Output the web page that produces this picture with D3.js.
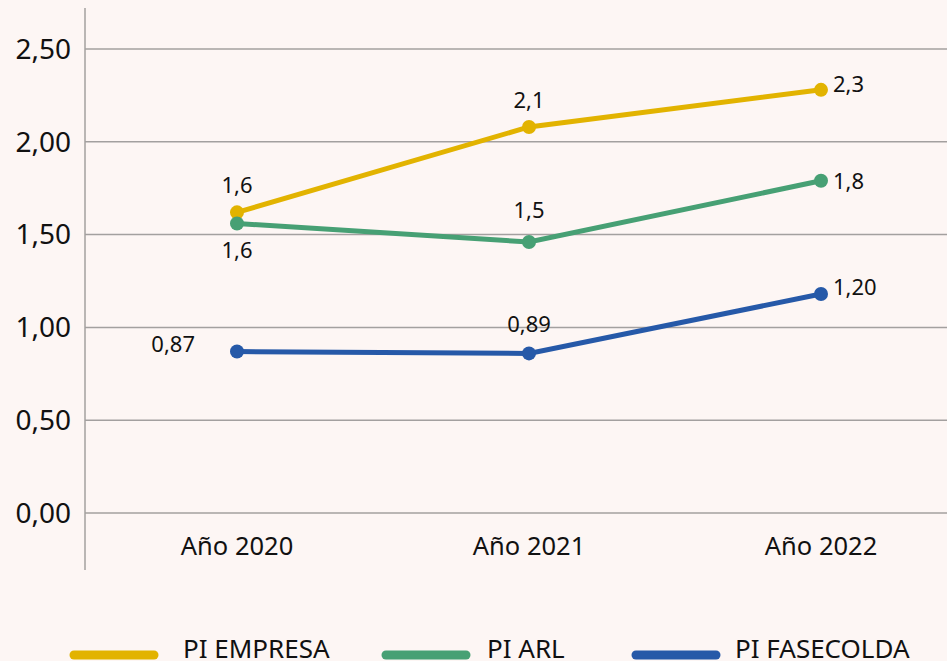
<!DOCTYPE html>
<html>
<head>
<meta charset="utf-8">
<script src="https://cdn.jsdelivr.net/npm/d3@7"></script>
<style>
  html, body { margin: 0; padding: 0; background: #fdf6f4; }
  svg text { font-family: "Noto Sans", "Open Sans", sans-serif; fill: #111; }
</style>
</head>
<body>
<script>
// chart data
const years = ["Año 2020", "Año 2021", "Año 2022"];
const seriesNames = ["PI EMPRESA", "PI ARL", "PI FASECOLDA"];
const empresa = [1.62, 2.08, 2.28];
const arl = [1.56, 1.46, 1.79];
const fasecolda = [0.87, 0.86, 1.18];
const empresaLabels = ["1,6", "2,1", "2,3"];
const arlLabels = ["1,6", "1,5", "1,8"];
const fasecoldaLabels = ["0,87", "0,89", "1,20"];
const yTicks = [0, 0.5, 1, 1.5, 2, 2.5];

const W = 947, H = 661;
const colors = ["#e2b300", "#47a074", "#2659a8"];
// where each value label sits relative to its point, plus a small vertical nudge
const labelPos = [
  [["above", 0], ["above", 0], ["right", -6]],
  [["below", 0], ["above", -5], ["right", 0]],
  [["left", -8], ["above", -2], ["right", -7]]
];

const series = [
  {name: seriesNames[0], values: empresa, labels: empresaLabels},
  {name: seriesNames[1], values: arl, labels: arlLabels},
  {name: seriesNames[2], values: fasecolda, labels: fasecoldaLabels}
];

const svg = d3.select("body").append("svg")
  .attr("width", W)
  .attr("height", H);

svg.append("rect").attr("width", W).attr("height", H).attr("fill", "#fdf6f4");

const left = 85;
const x = d3.scalePoint().domain(years).range([237, 821]);
const y = d3.scaleLinear().domain([0, 2.5]).range([513, 49]);

// grid
svg.append("g").selectAll("line")
  .data(yTicks).join("line")
  .attr("x1", left).attr("x2", W)
  .attr("y1", d => y(d)).attr("y2", d => y(d))
  .attr("stroke", "#a3a09f").attr("stroke-width", 1.5);

// y axis line
svg.append("line")
  .attr("x1", left).attr("x2", left)
  .attr("y1", 8).attr("y2", 570)
  .attr("stroke", "#a3a09f").attr("stroke-width", 1.5);

const fmt = d => d3.format(".2f")(d).replace(".", ",");

svg.append("g").selectAll("text")
  .data(yTicks).join("text")
  .attr("x", 71)
  .attr("y", d => y(d))
  .attr("dy", "0.35em")
  .attr("text-anchor", "end")
  .attr("font-size", 28)
  .text(fmt);

svg.append("g").selectAll("text")
  .data(years).join("text")
  .attr("x", d => x(d))
  .attr("y", 555)
  .attr("text-anchor", "middle")
  .attr("font-size", 25.5)
  .text(d => d);

const line = d3.line()
  .x((d, i) => x(years[i]))
  .y(d => y(d));

series.forEach((s, si) => {
  const g = svg.append("g");
  g.append("path")
    .attr("d", line(s.values))
    .attr("fill", "none")
    .attr("stroke", colors[si])
    .attr("stroke-width", 5);
  g.selectAll("circle")
    .data(s.values).join("circle")
    .attr("cx", (d, i) => x(years[i]))
    .attr("cy", d => y(d))
    .attr("r", 7)
    .attr("fill", colors[si]);
  g.selectAll("text")
    .data(s.values).join("text")
    .attr("font-size", 22)
    .attr("x", (d, i) => {
      const p = labelPos[si][i][0], cx = x(years[i]);
      if (p === "right") return cx + 12;
      if (p === "left") return cx - 42;
      return cx;
    })
    .attr("y", (d, i) => {
      const [p, dy] = labelPos[si][i], cy = y(d);
      if (p === "above") return cy - 19 + dy;
      if (p === "below") return cy + 35 + dy;
      return cy + 8 + dy;
    })
    .attr("text-anchor", (d, i) => {
      const p = labelPos[si][i][0];
      return p === "right" ? "start" : p === "left" ? "end" : "middle";
    })
    .text((d, i) => s.labels[i]);
});

// legend
const legendX = [70, 382, 632];
const legendGap = [113, 105, 103];
const legend = svg.append("g").selectAll("g")
  .data(series).join("g")
  .attr("transform", (d, i) => `translate(${legendX[i]},655)`);
legend.append("line")
  .attr("x1", 4).attr("x2", 84)
  .attr("stroke", (d, i) => colors[i])
  .attr("stroke-width", 9)
  .attr("stroke-linecap", "round");
legend.append("text")
  .attr("x", (d, i) => legendGap[i])
  .attr("y", 3)
  .attr("font-size", 26)
  .text(d => d.name);
</script>
</body>
</html>
